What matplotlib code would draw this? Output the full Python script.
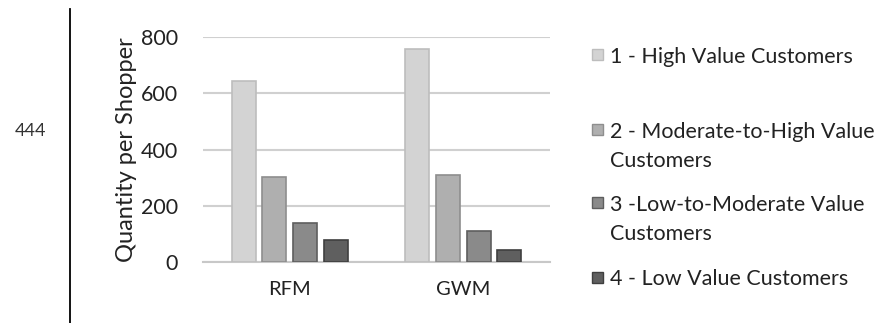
import matplotlib.pyplot as plt
from matplotlib.patches import Rectangle
import numpy as np

plt.rcParams['font.family'] = ['Lato', 'DejaVu Sans']

# data
methods = ['RFM', 'GWM']
segments = ['1 - High Value Customers',
            '2 - Moderate-to-High Value\nCustomers',
            '3 -Low-to-Moderate Value\nCustomers',
            '4 - Low Value Customers']
high = [645, 758]
mod_high = [302, 309]
low_mod = [138, 110]
low = [78, 43]
values = [high, mod_high, low_mod, low]

fills = ['#d3d3d3', '#afafaf', '#8a8a8a', '#5f5f5f']
edges = ['#bdbdbd', '#8e8e8e', '#5e5e5e', '#3f3f3f']

fig = plt.figure(figsize=(8.9, 3.23), dpi=100)
ax = fig.add_axes([0.228, 0.189, 0.39, 0.696])

x = np.arange(len(methods))
step = 0.177
width = 0.138
for i, vals in enumerate(values):
    ax.bar(x + (i - 1.5) * step, vals, width, color=fills[i],
           edgecolor=edges[i], linewidth=1.2, zorder=3)

ax.set_xlim(-0.5, 1.5)
ax.set_ylim(0, 800)
ax.set_yticks([0, 200, 400, 600, 800])
ax.set_xticks(x)
ax.set_xticklabels(methods)
ax.yaxis.grid(True, color='#d0d0d0', linewidth=1.5, zorder=0)
for s in ['top', 'right', 'left']:
    ax.spines[s].set_visible(False)
ax.spines['bottom'].set_color('#c8c8c8')
ax.spines['bottom'].set_linewidth(1.5)
ax.tick_params(axis='both', length=0, labelsize=15.5, colors='#222222')
ax.tick_params(axis='x', pad=14, labelsize=14.5)
ax.tick_params(axis='y', pad=18)
ax.set_ylabel('Quantity per Shopper', fontsize=17, color='#222222', labelpad=3)

# legend drawn by hand: markers line up with the first text line
leg_y = [0.83, 0.598, 0.372, 0.142]
for i, lab in enumerate(segments):
    y0 = leg_y[i]
    fig.patches.append(Rectangle((0.665, y0 - 0.017), 0.012, 0.034,
                                 transform=fig.transFigure,
                                 facecolor=fills[i], edgecolor=edges[i],
                                 linewidth=1))
    fig.text(0.685, y0 + 0.025, lab, fontsize=15.5, color='#222222',
             va='top', linespacing=1.55)

# page margin bits
fig.add_artist(plt.Line2D([0.079, 0.079], [0.0, 0.972], color='black',
                          linewidth=1.3, transform=fig.transFigure))
fig.text(0.034, 0.595, '444', fontsize=13, color='#333333', ha='center', va='center')

fig.savefig('out.png', dpi=100)
